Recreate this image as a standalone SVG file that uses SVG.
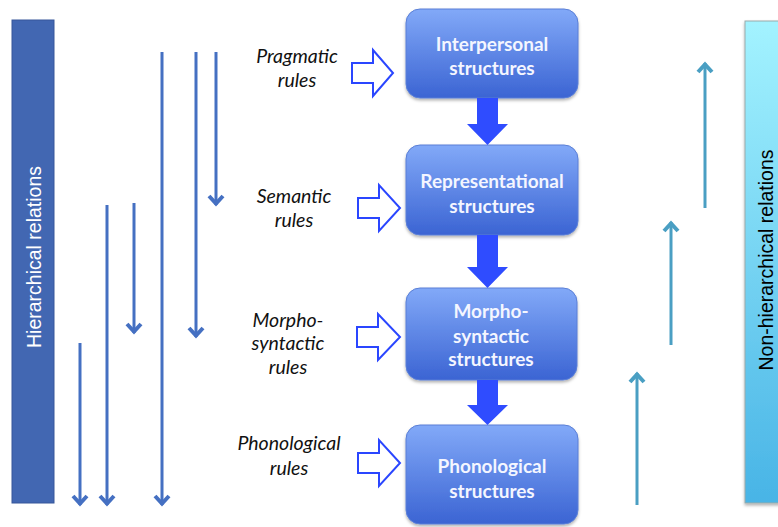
<svg xmlns="http://www.w3.org/2000/svg" width="778" height="527" viewBox="0 0 778 527">
<style>
.box{stroke:#5a7fd6;stroke-width:1;filter:url(#sh)}
.bt{font-family:Lato,"Liberation Sans",sans-serif;font-weight:bold;font-size:19px;fill:#f4f6ff;text-anchor:middle}
.rl{font-family:Lato,"Liberation Sans",sans-serif;font-style:italic;font-size:19.5px;fill:#111;text-anchor:middle}
.hol{fill:#fff;stroke:#2a46ff;stroke-width:2;stroke-linejoin:miter}
.blk{fill:#2f4cff}
.dn{stroke:#4570c2;stroke-width:3;fill:none;marker-end:url(#ahd)}
.up{stroke:#4a9fc3;stroke-width:3;fill:none;marker-end:url(#ahu)}
.side{font-family:"Liberation Sans",Arial,sans-serif;font-size:19.5px;text-anchor:middle}
</style>
<defs>
<linearGradient id="gb" x1="0" y1="0" x2="0" y2="1">
<stop offset="0" stop-color="#82a9f8"/>
<stop offset="1" stop-color="#3b64d3"/>
</linearGradient>
<linearGradient id="gr" x1="0" y1="0" x2="0" y2="1">
<stop offset="0" stop-color="#a3f3ff"/>
<stop offset="1" stop-color="#48b4e6"/>
</linearGradient>
<filter id="sh" x="-10%" y="-10%" width="120%" height="125%">
<feDropShadow dx="0" dy="2" stdDeviation="1.5" flood-color="#000" flood-opacity="0.3"/>
</filter>
<marker id="ahd" viewBox="-12 -10 14 20" refX="0" refY="0" markerWidth="14" markerHeight="20" markerUnits="userSpaceOnUse" orient="auto">
<path d="M-9,-7 L-1.5,0 L-9,7" fill="none" stroke="#4570c2" stroke-width="4"/>
</marker>
<marker id="ahu" viewBox="-12 -10 14 20" refX="0" refY="0" markerWidth="14" markerHeight="20" markerUnits="userSpaceOnUse" orient="auto">
<path d="M-9,-7 L-1.5,0 L-9,7" fill="none" stroke="#4a9fc3" stroke-width="4"/>
</marker>
</defs>
<rect width="778" height="527" fill="#fff"/>

<g id="hierarchical-bar">
<rect x="12" y="20" width="42" height="483" fill="#4267b2" stroke="#36579a" stroke-width="1"/>
<text class="side" fill="#fff" transform="translate(41,257) rotate(-90)">Hierarchical relations</text>
</g>

<g id="nonhierarchical-bar">
<rect x="745" y="21" width="40" height="482" fill="url(#gr)" stroke="#9aa" stroke-width="1" filter="url(#sh)"/>
<text class="side" fill="#000" transform="translate(773,260) rotate(-90)">Non-hierarchical relations</text>
</g>

<g id="interpersonal">
<rect class="box" x="406" y="9" width="172" height="89" rx="14" fill="url(#gb)"/>
<text class="bt" x="492" y="51">Interpersonal</text>
<text class="bt" x="492" y="75">structures</text>
</g>
<g id="representational">
<rect class="box" x="406" y="145" width="172" height="90" rx="14" fill="url(#gb)"/>
<text class="bt" x="492" y="188">Representational</text>
<text class="bt" x="492" y="213">structures</text>
</g>
<g id="morphosyntactic">
<rect class="box" x="406" y="288" width="171" height="92" rx="14" fill="url(#gb)"/>
<text class="bt" x="491" y="318">Morpho-</text>
<text class="bt" x="491" y="343">syntactic</text>
<text class="bt" x="491" y="366">structures</text>
</g>
<g id="phonological">
<rect class="box" x="406" y="425" width="172" height="99" rx="14" fill="url(#gb)"/>
<text class="bt" x="492" y="473">Phonological</text>
<text class="bt" x="492" y="498">structures</text>
</g>

<g id="pragmatic-rules">
<text class="rl" x="297" y="63">Pragmatic</text>
<text class="rl" x="297" y="87">rules</text>
</g>
<g id="semantic-rules">
<text class="rl" x="294" y="203">Semantic</text>
<text class="rl" x="294" y="227">rules</text>
</g>
<g id="morphosyntactic-rules">
<text class="rl" x="288" y="327">Morpho-</text>
<text class="rl" x="288" y="350">syntactic</text>
<text class="rl" x="288" y="374">rules</text>
</g>
<g id="phonological-rules">
<text class="rl" x="289" y="450">Phonological</text>
<text class="rl" x="289" y="475">rules</text>
</g>

<g id="connectors">
<path class="hol" d="M352,63 H373 V50 L393,73 L373,96 V83 H352 Z"/>
<path class="hol" d="M358,198 H379 V185 L400,208 L379,231 V218 H358 Z"/>
<path class="hol" d="M357,327 H378 V314 L400,337 L378,360 V347 H357 Z"/>
<path class="hol" d="M358,453 H379 V440 L400,463 L379,486 V473 H358 Z"/>

<path class="blk" d="M477,98 H498 V124 H508 L487.5,145 L467,124 H477 Z"/>
<path class="blk" d="M477,235 H498 V267 H508 L487.5,288 L467,267 H477 Z"/>
<path class="blk" d="M477,380 H498 V405 H508 L487.5,425 L467,405 H477 Z"/>

<line class="dn" x1="162" y1="52" x2="162" y2="505"/>
<line class="dn" x1="196" y1="52" x2="196" y2="337"/>
<line class="dn" x1="216" y1="52" x2="216" y2="205"/>
<line class="dn" x1="134" y1="203" x2="134" y2="333"/>
<line class="dn" x1="107" y1="205" x2="107" y2="505"/>
<line class="dn" x1="80" y1="343" x2="80" y2="505"/>

<line class="up" x1="705" y1="208" x2="705" y2="63"/>
<line class="up" x1="671" y1="345" x2="671" y2="222"/>
<line class="up" x1="637" y1="505" x2="637" y2="373"/>
</g>
</svg>
